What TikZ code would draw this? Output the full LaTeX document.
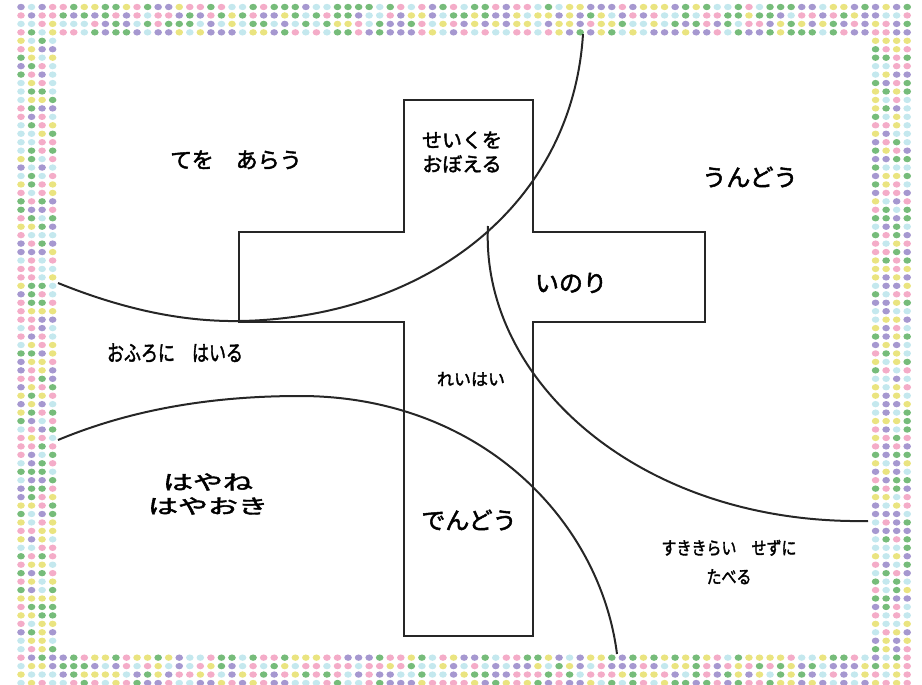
\documentclass[tikz,border=0pt]{standalone}
\usepackage{fontspec}
\newfontfamily\jp[FakeBold=2]{Noto Sans CJK JP}
\usetikzlibrary{positioning}
\definecolor{bead0}{RGB}{118,188,122}
\definecolor{bead1}{RGB}{166,152,208}
\definecolor{bead2}{RGB}{234,228,128}
\definecolor{bead3}{RGB}{244,172,200}
\definecolor{bead4}{RGB}{196,232,238}
\tikzset{
  rule/.style={line width=2pt,black!85},
  label/.style={font=\jp,align=center,inner sep=0pt},
}

\begin{document}
\begin{tikzpicture}[x=1pt,y=-1pt]
\useasboundingbox (0,0) rectangle (922,685);
\pgfmathsetseed{31}
% the beaded frame
\foreach \i in {0,...,84}{
  \foreach \j in {0,1,2,3,77,78,79,80}{
    \pgfmathtruncatemacro\k{random(0,4)}
    \fill[bead\k] ({21+\i*10.55},{7+\j*8.45}) ellipse [x radius=3.8,y radius=3.2];
  }
}
\foreach \i in {0,1,2,3,81,82,83,84}{
  \foreach \j in {4,...,76}{
    \pgfmathtruncatemacro\k{random(0,4)}
    \fill[bead\k] ({21+\i*10.55},{7+\j*8.45}) ellipse [x radius=3.8,y radius=3.2];
  }
}
% the cross
\draw[rule,line width=2.6pt] (404,100) -- (533,100) -- (533,232) -- (705,232)
  -- (705,322) -- (533,322) -- (533,636) -- (404,636) -- (404,322)
  -- (239,322) -- (239,232) -- (404,232) -- cycle;
% the arcs
\draw[rule] (58,283) .. controls (120,308) and (180,322) .. (240,321)
  .. controls (420,318) and (572,210) .. (583,34);
\draw[rule] (488,226) .. controls (480,380) and (640,525) .. (868,521);
\draw[rule] (58,440) .. controls (130,410) and (210,396) .. (300,396)
  .. controls (480,396) and (600,520) .. (617,654);
% labels
\node[label,font=\jp\fontsize{22}{26}\selectfont] (washhands) at (236,160) {てを　あらう};
\node[label,font=\jp\fontsize{20}{24}\selectfont] (memorize) at (462,152) {せいくを\\おぼえる};
\node[label,font=\jp\fontsize{24}{28}\selectfont] (exercise) at (750,177) {うんどう};
\node[label,font=\jp\fontsize{24}{28}\selectfont] (prayer) at (571,283) {いのり};
\node[label,font=\jp\fontsize{17}{20}\selectfont,yscale=1.3] (bath) at (175,353) {おふろに　はいる};
\node[label,font=\jp\fontsize{17}{20}\selectfont] (worship) at (471,379) {れいはい};
\node[label,font=\jp\fontsize{20}{24}\selectfont,xscale=1.5] (earlybed) at (208,494) {はやね\\はやおき};
\node[label,font=\jp\fontsize{24}{28}\selectfont] (evangelism) at (469,520) {でんどう};
\node[label,font=\jp\fontsize{15}{24}\selectfont,yscale=1.2] (eatall) at (729,562) {すききらい　せずに\\たべる};
\end{tikzpicture}
\end{document}
